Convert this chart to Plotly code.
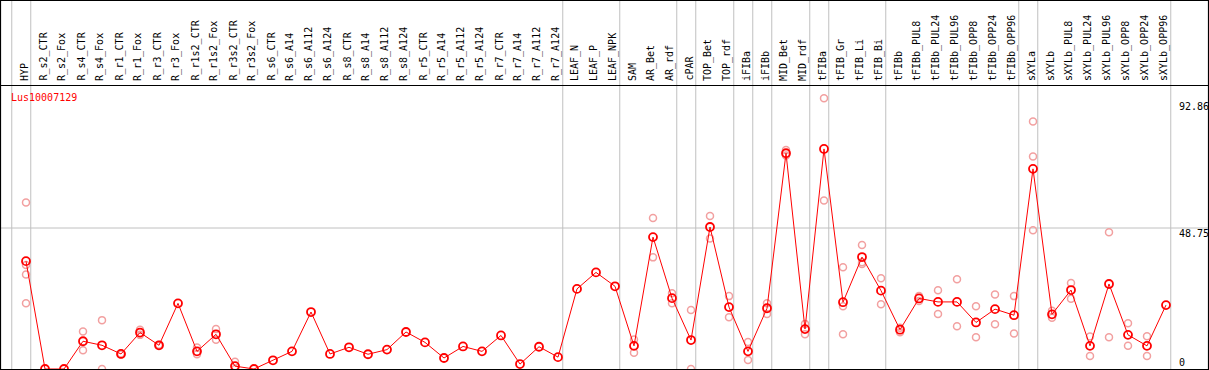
import plotly.graph_objects as go

categories = ["HYP", "R_s2_CTR", "R_s2_Fox", "R_s4_CTR", "R_s4_Fox", "R_r1_CTR", "R_r1_Fox",
              "R_r3_CTR", "R_r3_Fox", "R_r1s2_CTR", "R_r1s2_Fox", "R_r3s2_CTR", "R_r3s2_Fox",
              "R_s6_CTR", "R_s6_A14", "R_s6_A112", "R_s6_A124", "R_s8_CTR", "R_s8_A14",
              "R_s8_A112", "R_s8_A124", "R_r5_CTR", "R_r5_A14", "R_r5_A112", "R_r5_A124",
              "R_r7_CTR", "R_r7_A14", "R_r7_A112", "R_r7_A124", "LEAF_N", "LEAF_P", "LEAF_NPK",
              "SAM", "AR_Bet", "AR_rdf", "cPAR", "TOP_Bet", "TOP_rdf", "iFIBa", "iFIBb",
              "MID_Bet", "MID_rdf", "tFIBa", "tFIB_Gr", "tFIB_Li", "tFIB_Bi", "tFIBb",
              "tFIBb_PUL8", "tFIBb_PUL24", "tFIBb_PUL96", "tFIBb_OPP8", "tFIBb_OPP24",
              "tFIBb_OPP96", "sXYLa", "sXYLb", "sXYLb_PUL8", "sXYLb_PUL24", "sXYLb_PUL96",
              "sXYLb_OPP8", "sXYLb_OPP24", "sXYLb_OPP96"]

mean_values = [37.3, 0.0, 0.0, 9.6, 8.2, 5.2, 12.6, 8.2, 22.7, 6.1, 12.0, 1.0, 0.0,
               3.0, 6.1, 19.7, 5.2, 7.5, 5.1, 6.7, 12.8, 9.2, 3.8, 7.8, 6.1,
               11.6, 1.7, 7.7, 4.1, 27.7, 33.4, 28.6,
               8.0, 45.6, 24.5, 10.0, 49.1, 21.4, 6.1, 21.0,
               74.6, 13.8, 76.1, 23.1, 38.7, 27.1, 13.6,
               24.4, 23.2, 23.2, 16.1, 20.7, 18.6,
               69.2, 18.9, 27.3, 8.0, 29.4, 11.8, 8.0, 22.1]

replicates = [[57.6, 36.0, 32.7, 22.7], [], [], [13.0, 6.5], [16.9, 0.0], [5.0, 5.4],
              [13.6, 11.8], [8.0, 8.4], [], [7.4, 5.1], [13.8, 10.1], [2.5, 0.0], [],
              [], [], [], [], [], [], [], [], [], [], [], [],
              [], [], [], [], [], [], [],
              [10.2, 5.6], [52.2, 38.6], [26.2, 22.7], [20.4, 0.0], [52.9, 45.1],
              [25.2, 17.9], [9.3, 3.1], [22.7, 19.0],
              [75.7, 73.8], [15.6, 12.0], [93.6, 58.3], [35.2, 21.7, 12.0],
              [42.9, 36.3, 36.9], [31.4, 22.4], [12.7, 14.3],
              [25.2, 23.5], [27.2, 19.0], [31.0, 14.8], [21.7, 11.0], [25.8, 15.5],
              [25.2, 12.3],
              [85.6, 73.5, 48.0], [17.7, 20.1], [29.7, 24.3], [11.2, 4.5], [47.3, 11.0],
              [15.8, 8.0], [11.3, 4.5], []]

group_bounds = [-1, 0, 28, 31, 34, 35, 37, 38, 39, 41, 42, 45, 52, 53, 60]
y_ticks = [0, 48.75, 92.86]
gene_name = "Lus10007129"

W, H = 1209, 370
FONT = "DejaVu Sans Mono"
idx = list(range(len(categories)))

rx, ry = [], []
for i, reps in enumerate(replicates):
    for v in reps:
        rx.append(i)
        ry.append(v)

fig = go.Figure()
fig.add_trace(go.Scatter(x=rx, y=ry, mode="markers",
                         marker=dict(symbol="circle-open", size=7, color="#f2a0a0",
                                     line=dict(width=1.5, color="#f2a0a0")),
                         hoverinfo="skip", showlegend=False))
fig.add_trace(go.Scatter(x=idx, y=mean_values, mode="lines+markers",
                         line=dict(color="#ff0000", width=1),
                         marker=dict(symbol="circle-open", size=8, color="#ff0000",
                                     line=dict(width=1.8, color="#ff0000")),
                         text=categories, showlegend=False))

shapes = []
for b in group_bounds:
    shapes.append(dict(type="line", xref="x", yref="paper", x0=b + 0.25, x1=b + 0.25,
                       y0=0, y1=1, line=dict(color="#c0c0c0", width=1), layer="below"))
shapes.append(dict(type="line", xref="paper", yref="y", x0=0, x1=1, y0=y_ticks[1],
                   y1=y_ticks[1], line=dict(color="#c0c0c0", width=1), layer="below"))
# header separator
shapes.append(dict(type="line", xref="paper", yref="paper", x0=0, x1=1,
                   y0=1 - 85.5 / H, y1=1 - 85.5 / H, line=dict(color="black", width=1.2)))
# frame
shapes.append(dict(type="rect", xref="paper", yref="paper", x0=0.5 / W, x1=1 - 0.5 / W,
                   y0=0.5 / H, y1=1 - 0.5 / H, line=dict(color="black", width=1.2)))

annotations = []
for i, c in enumerate(categories):
    annotations.append(dict(x=i, y=1 - 83 / H, xref="x", yref="paper", text=c,
                            textangle=-90, showarrow=False, xanchor="center",
                            yanchor="bottom", xshift=-2,
                            font=dict(family=FONT, size=10, color="black")))
tick_pix = [362, 233, 107]
for t, p in zip(y_ticks, tick_pix):
    lab = "0" if t == 0 else f"{t:.2f}"
    annotations.append(dict(x=1177 / W, y=1 - p / H, xref="paper", yref="paper", text=lab,
                            showarrow=False, xanchor="left", yanchor="middle",
                            font=dict(family=FONT, size=10, color="black")))
annotations.append(dict(x=9 / W, y=1 - 97 / H, xref="paper", yref="paper", text=gene_name,
                        showarrow=False, xanchor="left", yanchor="middle",
                        font=dict(family=FONT, size=10, color="#ff0000")))

fig.update_layout(
    width=W, height=H, autosize=False,
    margin=dict(l=0, r=0, t=0, b=0, pad=0),
    paper_bgcolor="white", plot_bgcolor="white",
    xaxis=dict(range=[-26 / 19, (W - 26) / 19], showgrid=False, zeroline=False,
               showticklabels=False, ticks="", fixedrange=True),
    yaxis=dict(range=[-1 / 2.892, 369 / 2.892], showgrid=False, zeroline=False,
               showticklabels=False, ticks="", fixedrange=True),
    shapes=shapes, annotations=annotations,
)

fig.write_html("out.html", config={"displayModeBar": False},
               post_script="document.body.style.margin='0';document.body.style.overflow='hidden';")
